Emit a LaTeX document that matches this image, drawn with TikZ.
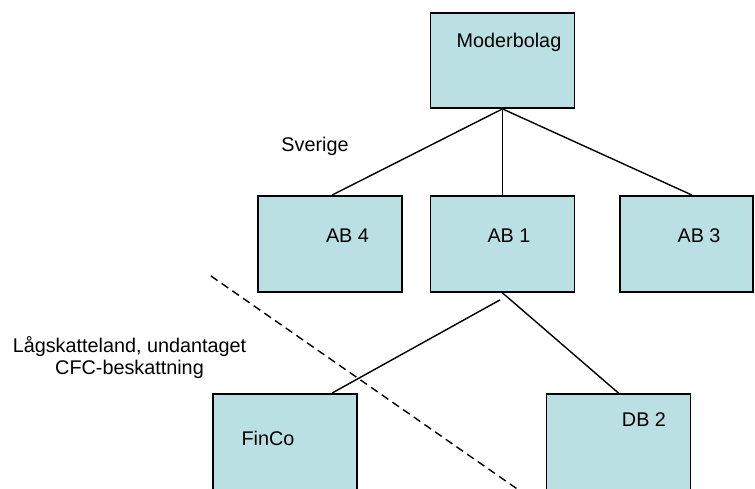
\documentclass[tikz,border=0pt]{standalone}
\usepackage{fontspec}
\setmainfont{Liberation Sans}
\usetikzlibrary{calc}
\definecolor{boxfill}{RGB}{187,224,227}

\begin{document}
\begin{tikzpicture}[
x=1pt, y=-1pt,
every node/.style={font=\fontsize{19.8}{22}\selectfont},
box/.style={draw, line width=1.8pt, fill=boxfill, minimum width=144pt, minimum height=96pt, inner sep=0pt},
txt/.style={anchor=base, inner sep=0pt, text height=0pt, text depth=0pt},
link/.style={line width=1.4pt},
border/.style={line width=1.4pt, dash pattern=on 8pt off 5pt}
]
\clip (0,0) rectangle (755,489);
\useasboundingbox (0,0) rectangle (755,489);

% boxes
\node[box, minimum height=95pt, label={[txt, xshift=6.5pt, yshift=13pt]center:Moderbolag}] (moder) at (502.5,60.5) {};
\node[box, label={[txt, xshift=17.5pt, yshift=1pt]center:AB 4}] (ab4) at (330,244) {};
\node[box, label={[txt, xshift=6.5pt, yshift=1pt]center:AB 1}] (ab1) at (502.5,244) {};
\node[box, minimum width=133pt, label={[txt, xshift=12.5pt, yshift=1pt]center:AB 3}] (ab3) at (686.5,244) {};
\node[box, label={[txt, xshift=-17pt, yshift=-3pt]center:FinCo}] (finco) at (285,442) {};
\node[box, label={[txt, xshift=25.5pt, yshift=16pt]center:DB 2}] (db2) at (618.5,442) {};

% texts
\node[txt] (sverige) at (315,152) {Sverige};
\node[anchor=base, inner sep=0pt, align=center] (lowtax) at (129.5,374) {Lågskatteland, undantaget\\CFC-beskattning};

% ownership lines
\draw[link] (moder.south) -- ([xshift=2pt]ab4.north);
\draw[link] (moder.south) -- (ab1.north);
\draw[link] (moder.south) -- ([xshift=5.5pt]ab3.north);
\draw[link] ([shift={(-2.5,7)}]ab1.south) -- ([xshift=47pt]finco.north);
\draw[link] (ab1.south) -- (db2.north);

% border between the countries
\coordinate (cutTop) at (211,276);
\coordinate (cutEnd) at (523,493);
\draw[border] (cutTop) -- (cutEnd);
\end{tikzpicture}
\end{document}
